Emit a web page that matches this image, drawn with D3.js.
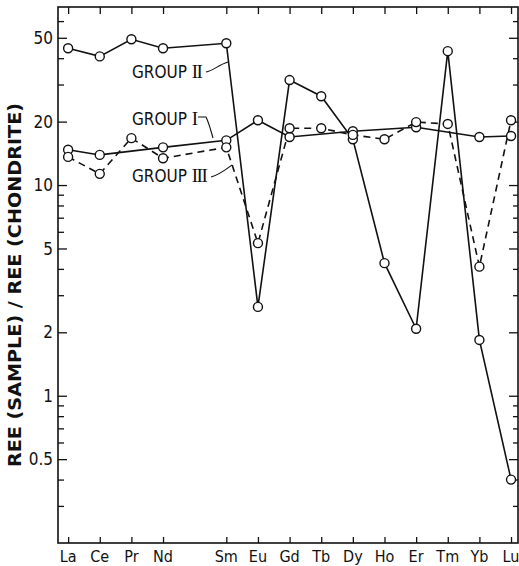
<!DOCTYPE html>
<html>
<head>
<meta charset="utf-8">
<script src="https://cdn.jsdelivr.net/npm/d3@7"></script>
<style>
  body { margin: 0; background: #fff; }
  text { font-family: "Liberation Sans Narrow", "DejaVu Sans Condensed", "Liberation Sans", sans-serif; fill: #111; }
</style>
</head>
<body>
<div id="chart"></div>
<script>
// Rare earth elements (atomic number sets the x position; Pm is skipped)
const elements = ["La", "Ce", "Pr", "Nd", "Sm", "Eu", "Gd", "Tb", "Dy", "Ho", "Er", "Tm", "Yb", "Lu"];
const atomicNumbers = [57, 58, 59, 60, 62, 63, 64, 65, 66, 67, 68, 69, 70, 71];

// Chondrite-normalised values (null = not plotted)
const groupI   = [14.7, 13.9, null, 15.1, 16.3, 20.3, 16.9, null, 18.0, null, 18.8, null, 16.9, 17.1];
const groupII  = [44.6, 40.8, 49.2, 44.6, 47.1, 2.64, 31.5, 26.4, 16.5, 4.26, 2.08, 43.2, 1.84, 0.40];
const groupIII = [13.6, 11.3, 16.7, 13.4, 15.1, 5.3, 18.6, 18.6, 17.3, 16.5, 19.9, 19.5, 4.1, 20.3];

const majorTicks = [0.5, 1, 2, 5, 10, 20, 50];
const minorTicks = [0.3, 0.4, 0.6, 0.7, 0.8, 0.9, 3, 4, 6, 7, 8, 9, 30, 40, 60];

const margin = { top: 7, right: 1, bottom: 23, left: 58 },
    width = 519 - margin.left - margin.right,
    height = 566 - margin.top - margin.bottom;

const svg = d3.select("#chart")
  .append("svg")
    .attr("width", 519)
    .attr("height", 566)
  .append("g")
    .attr("transform", `translate(${margin.left},${margin.top})`);

// Scales
const x = d3.scaleLinear()
    .domain([56.68, 71.22])
    .range([0, width]);

const y = d3.scaleLog()
    .domain([0.2, 70])
    .range([height, 0]);

// Frame
svg.append("rect")
    .attr("width", width)
    .attr("height", height)
    .attr("fill", "none")
    .attr("stroke", "#111")
    .attr("stroke-width", 1.6);

// Left axis (ticks inside)
svg.append("g")
    .call(d3.axisRight(y).tickValues(majorTicks).tickSize(9).tickFormat(""))
    .call(g => g.select(".domain").remove());
svg.append("g")
    .call(d3.axisRight(y).tickValues(minorTicks).tickSize(6).tickFormat(""))
    .call(g => g.select(".domain").remove());

// Right axis (ticks inside)
svg.append("g")
    .attr("transform", `translate(${width},0)`)
    .call(d3.axisLeft(y).tickValues(majorTicks).tickSize(9).tickFormat(""))
    .call(g => g.select(".domain").remove());
svg.append("g")
    .attr("transform", `translate(${width},0)`)
    .call(d3.axisLeft(y).tickValues(minorTicks).tickSize(5).tickFormat(""))
    .call(g => g.select(".domain").remove());

svg.selectAll(".tick line").attr("stroke", "#111").attr("stroke-width", 1.3);

// Y tick labels
svg.selectAll(".ylab")
    .data(majorTicks)
    .enter().append("text")
      .attr("class", "ylab")
      .attr("x", -5)
      .attr("y", d => y(d))
      .attr("dy", "0.36em")
      .attr("text-anchor", "end")
      .style("font-size", "17px")
      .text(d => d);

// Top and bottom ticks (inside)
svg.append("g")
    .call(d3.axisBottom(x).tickValues(atomicNumbers).tickSize(7).tickFormat(""))
    .call(g => g.select(".domain").remove())
    .selectAll("line").attr("stroke", "#111").attr("stroke-width", 1.3);
svg.append("g")
    .attr("transform", `translate(0,${height})`)
    .call(d3.axisTop(x).tickValues(atomicNumbers).tickSize(6).tickFormat(""))
    .call(g => g.select(".domain").remove())
    .selectAll("line").attr("stroke", "#111").attr("stroke-width", 1.3);

// X labels
svg.selectAll(".xlab")
    .data(elements)
    .enter().append("text")
      .attr("class", "xlab")
      .attr("x", (d, i) => x(atomicNumbers[i]))
      .attr("y", height + 19)
      .attr("text-anchor", "middle")
      .style("font-size", "16px")
      .text(d => d);

// Y axis title
svg.append("text")
    .attr("transform", "rotate(-90)")
    .attr("x", -(285 - margin.top))
    .attr("y", -margin.left + 21)
    .attr("text-anchor", "middle")
    .attr("textLength", 364)
    .attr("lengthAdjust", "spacingAndGlyphs")
    .style("font-size", "18px")
    .style("font-weight", "600")
    .text("REE (SAMPLE) / REE (CHONDRITE)");

// Series
const series = [
  { values: groupI, dash: null },
  { values: groupII, dash: null },
  { values: groupIII, dash: "7,5" }
];

const line = d3.line()
    .x(d => x(d.z))
    .y(d => y(d.v));

series.forEach(s => {
  const pts = s.values
    .map((v, i) => ({ z: atomicNumbers[i], v: v }))
    .filter(d => d.v !== null);
  s.pts = pts;

  svg.append("path")
      .datum(pts)
      .attr("fill", "none")
      .attr("stroke", "#111")
      .attr("stroke-width", 1.6)
      .attr("stroke-dasharray", s.dash)
      .attr("d", line);
});

series.forEach(s => {
  svg.append("g")
    .selectAll("circle")
    .data(s.pts)
    .enter()
    .append("circle")
      .attr("cx", d => x(d.z))
      .attr("cy", d => y(d.v))
      .attr("r", 4.5)
      .attr("fill", "#fff")
      .attr("stroke", "#111")
      .attr("stroke-width", 1.4);
});

// Group labels with leader lines
const labels = [
  { word: "GROUP ", numeral: "II", x: 74, y: 71, leader: "M148,65 C155,64 160,58 170,55" },
  { word: "GROUP ", numeral: "I", x: 74, y: 118, leader: "M140,110 L148,110 C151,116 153,124 155,131" },
  { word: "GROUP ", numeral: "III", x: 74, y: 175, leader: "M153,170 C161,168 167,163 174,158" }
];

labels.forEach(l => {
  const t = svg.append("text")
      .attr("x", l.x)
      .attr("y", l.y)
      .style("font-size", "17px");
  t.append("tspan").text(l.word);
  t.append("tspan")
      .style("font-family", "'Liberation Serif', 'DejaVu Serif', serif")
      .style("font-size", "19px")
      .attr("letter-spacing", "-1.5")
      .text(l.numeral);
  svg.append("path")
      .attr("d", l.leader)
      .attr("fill", "none")
      .attr("stroke", "#111")
      .attr("stroke-width", 1.1);
});
</script>
</body>
</html>
